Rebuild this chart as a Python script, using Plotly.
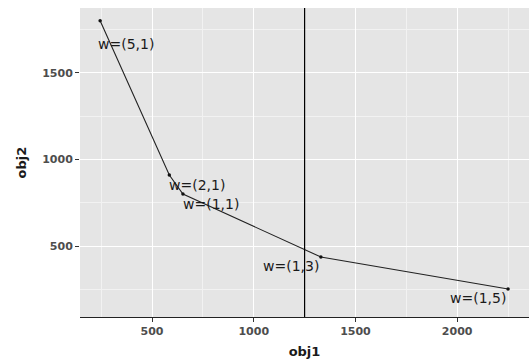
import plotly.graph_objects as go

labels = ["w=(5,1)", "w=(2,1)", "w=(1,1)", "w=(1,3)", "w=(1,5)"]
obj1 = [245, 585, 652, 1330, 2250]
obj2 = [1800, 910, 800, 437, 252]
vline_x = 1250

# label placement (pixel offsets relative to points)
lab_anchor = ["left", "left", "left", "right", "right"]
lab_xshift = [-4, -2, -2, 0, 0]
lab_yshift = [-23, -10, -10, -9, -9]

x_range = [146, 2353]
y_range = [91, 1873]
x_ticks = [500, 1000, 1500, 2000]
y_ticks = [500, 1000, 1500]
x_minor = [250, 750, 1250, 1750, 2250]
y_minor = [250, 750, 1250, 1750]

FONT = "DejaVu Sans"

fig = go.Figure()
fig.add_trace(go.Scatter(
    x=obj1, y=obj2, mode="lines+markers",
    line=dict(color="#222222", width=1.1),
    marker=dict(color="#111111", size=3.5),
    showlegend=False, hoverinfo="skip"))

for lb, x, y, a, xs, ys in zip(labels, obj1, obj2, lab_anchor, lab_xshift, lab_yshift):
    fig.add_annotation(x=x, y=y, text=lb, showarrow=False, xanchor=a, yanchor="middle",
                       xshift=xs, yshift=ys,
                       font=dict(family=FONT, size=14, color="#1a1a1a"))

fig.add_shape(type="line", x0=vline_x, x1=vline_x, y0=0, y1=1, yref="paper", xref="x",
              line=dict(color="black", width=1.2))

fig.update_layout(
    width=532, height=361,
    margin=dict(l=80, r=3, t=8, b=44),
    paper_bgcolor="white", plot_bgcolor="#E5E5E5",
    font=dict(family=FONT),
)
fig.update_xaxes(
    range=x_range, tickvals=x_ticks, ticktext=[str(v) for v in x_ticks],
    showgrid=True, gridcolor="white", gridwidth=1.1,
    minor=dict(tickvals=x_minor, showgrid=True, gridcolor="#F2F2F2", gridwidth=0.6, ticks=""),
    ticks="outside", ticklen=4, tickcolor="#333333", tickwidth=1,
    tickfont=dict(family=FONT, size=11, color="#4D4D4D", weight="bold"),
    showline=True, linecolor="#222222", linewidth=1.2,
    zeroline=False,
    title=dict(text="obj1", font=dict(family=FONT, size=13, color="#1a1a1a", weight="bold"), standoff=9),
)
fig.update_yaxes(
    range=y_range, tickvals=y_ticks, ticktext=[str(v) for v in y_ticks],
    showgrid=True, gridcolor="white", gridwidth=1.1,
    minor=dict(tickvals=y_minor, showgrid=True, gridcolor="#F2F2F2", gridwidth=0.6, ticks=""),
    ticks="outside", ticklen=4, tickcolor="#333333", tickwidth=1,
    tickfont=dict(family=FONT, size=11, color="#4D4D4D", weight="bold"),
    showline=False, zeroline=False,
    title=dict(text="obj2", font=dict(family=FONT, size=13, color="#1a1a1a", weight="bold"), standoff=12),
)

fig.write_html("out.html")
